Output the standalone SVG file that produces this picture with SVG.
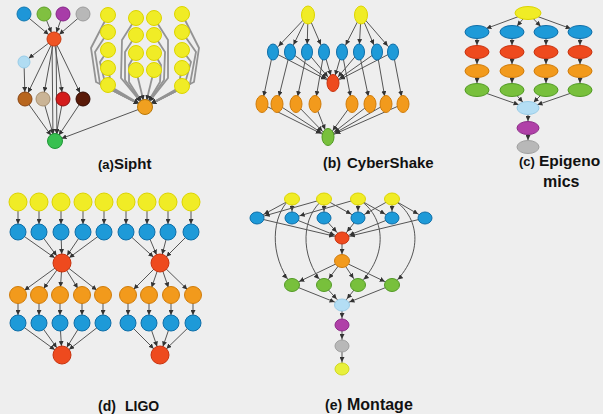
<svg xmlns="http://www.w3.org/2000/svg" width="603" height="414" viewBox="0 0 603 414">
<style>
.t{font-family:"Liberation Sans",Arial,sans-serif;font-weight:bold;fill:#111}
.e{stroke:#555;stroke-width:1;fill:none}
.eg{stroke:#939393;stroke-width:1.8;fill:none}
.e6{marker-end:url(#m6)}.e7{marker-end:url(#m7)}.e8{marker-end:url(#m8)}.e9{marker-end:url(#m9)}.e10{marker-end:url(#m10)}
.Y{fill:#f0ec26;stroke:#dcd400}
.B{fill:#1e9ad8;stroke:#0f6ea8}
.R{fill:#ee4a1e;stroke:#c8320e}
.O{fill:#f29a1c;stroke:#d07c0a}
.G{fill:#78c03c;stroke:#529a24}
.LB{fill:#b4def4;stroke:#98cce8}
.P{fill:#b040a8;stroke:#8c2c88}
.GR{fill:#b8b8b8;stroke:#a0a0a0}
</style>
<defs>
<marker id="m6" viewBox="0 0 10 10" markerWidth="5" markerHeight="5" refX="22" refY="5" orient="auto" markerUnits="userSpaceOnUse"><path d="M0,0L10,5L0,10z" fill="#333"/></marker>
<marker id="m7" viewBox="0 0 10 10" markerWidth="5" markerHeight="5" refX="24" refY="5" orient="auto" markerUnits="userSpaceOnUse"><path d="M0,0L10,5L0,10z" fill="#333"/></marker>
<marker id="m8" viewBox="0 0 10 10" markerWidth="5" markerHeight="5" refX="26" refY="5" orient="auto" markerUnits="userSpaceOnUse"><path d="M0,0L10,5L0,10z" fill="#333"/></marker>
<marker id="m9" viewBox="0 0 10 10" markerWidth="5" markerHeight="5" refX="28" refY="5" orient="auto" markerUnits="userSpaceOnUse"><path d="M0,0L10,5L0,10z" fill="#333"/></marker>
<marker id="m10" viewBox="0 0 10 10" markerWidth="5" markerHeight="5" refX="30" refY="5" orient="auto" markerUnits="userSpaceOnUse"><path d="M0,0L10,5L0,10z" fill="#333"/></marker>
</defs>
<rect width="603" height="414" fill="#eeeeee"/>

<g id="connectors">
<!-- Sipht -->
<path class="e e7" d="M24,14L54,39"/><path class="e e7" d="M44,14L54,39"/><path class="e e7" d="M63,14L54,39"/><path class="e e7" d="M83,14L54,39"/>
<path class="e e6" d="M54,39L24,62"/><path class="e e7" d="M24,62L25,99"/>
<path class="e e7" d="M54,39L25,99"/><path class="e e7" d="M54,39L43,99"/><path class="e e7" d="M54,39L63,99"/><path class="e e7" d="M54,39L83,99"/>
<path class="e e7" d="M52,39L53,141"/><path class="e e7" d="M56,39L57,141"/>
<path class="e e7" d="M25,99L55,141"/><path class="e e7" d="M43,99L55,141"/><path class="e e7" d="M63,99L55,141"/><path class="e e7" d="M83,99L55,141"/>
<path class="e e7" d="M145,107L55,141"/>
<path class="eg e7" d="M108,15L91,48L96,82L145,107"/>
<path class="eg e7" d="M108,32L95,52L100,84L145,107"/>
<path class="eg e7" d="M108,50L100,62L106,87L145,107"/>
<path class="eg e7" d="M108,68L112,89L145,107"/>
<path class="eg e7" d="M108,85L145,107"/>
<path class="eg e7" d="M136,18L122,40L121,78L145,107"/>
<path class="eg e7" d="M136,35L125,52L125,80L145,107"/>
<path class="eg e7" d="M136,53L129,65L129,82L145,107"/>
<path class="eg e7" d="M136,70L145,107"/>
<path class="eg e7" d="M154,18L168,40L168,78L145,107"/>
<path class="eg e7" d="M154,35L165,52L164,80L145,107"/>
<path class="eg e7" d="M154,53L161,65L160,82L145,107"/>
<path class="eg e7" d="M154,70L145,107"/>
<path class="eg e7" d="M182,14L199,48L194,82L145,107"/>
<path class="eg e7" d="M182,32L196,52L190,84L145,107"/>
<path class="eg e7" d="M182,50L191,62L184,87L145,107"/>
<path class="eg e7" d="M182,68L178,89L145,107"/>
<path class="eg e7" d="M182,86L145,107"/>
<!-- CyberShake -->
<path class="e e8" d="M308,15L273,52"/><path class="e e8" d="M308,15L290,52"/><path class="e e8" d="M308,15L307,52"/><path class="e e8" d="M308,15L324,52"/>
<path class="e e8" d="M361,15L342,52"/><path class="e e8" d="M361,15L359,52"/><path class="e e8" d="M361,15L377,52"/><path class="e e8" d="M361,15L393,52"/>
<path class="e e8" d="M273,52L333,83"/><path class="e e8" d="M290,52L333,83"/><path class="e e8" d="M307,52L333,83"/><path class="e e8" d="M324,52L333,83"/>
<path class="e e8" d="M342,52L333,83"/><path class="e e8" d="M359,52L333,83"/><path class="e e8" d="M377,52L333,83"/><path class="e e8" d="M393,52L333,83"/>
<path class="e e8" d="M273,52L262,104"/><path class="e e8" d="M290,52L277,104"/><path class="e e8" d="M307,52L296,104"/><path class="e e8" d="M324,52L315,104"/>
<path class="e e8" d="M342,52L352,104"/><path class="e e8" d="M359,52L370,104"/><path class="e e8" d="M377,52L386,104"/><path class="e e8" d="M393,52L403,104"/>
<path class="e e8" d="M262,104L328,137"/><path class="e e8" d="M277,104L328,137"/><path class="e e8" d="M296,104L328,137"/><path class="e e8" d="M315,104L328,137"/>
<path class="e e8" d="M352,104L328,137"/><path class="e e8" d="M370,104L328,137"/><path class="e e8" d="M386,104L328,137"/><path class="e e8" d="M403,104L328,137"/>
<!-- Epigenomics -->
<path class="e e10" d="M528,13L477,32"/><path class="e e8" d="M528,13L512,32"/><path class="e e8" d="M528,13L546,32"/><path class="e e10" d="M528,13L580,32"/>
<path class="e e7" d="M477,32L477,52"/><path class="e e7" d="M477,52L477,71"/><path class="e e7" d="M477,71L477,90"/>
<path class="e e7" d="M512,32L512,52"/><path class="e e7" d="M512,52L512,71"/><path class="e e7" d="M512,71L512,90"/>
<path class="e e7" d="M546,32L546,52"/><path class="e e7" d="M546,52L546,71"/><path class="e e7" d="M546,71L546,90"/>
<path class="e e7" d="M580,32L580,52"/><path class="e e7" d="M580,52L580,71"/><path class="e e7" d="M580,71L580,90"/>
<path class="e e10" d="M477,90L528,108"/><path class="e e8" d="M512,90L528,108"/><path class="e e8" d="M546,90L528,108"/><path class="e e10" d="M580,90L528,108"/>
<path class="e e7" d="M528,108L528,128"/><path class="e e7" d="M528,128L528,147"/>
<!-- LIGO -->
<path class="e e8" d="M18,202L18,232"/><path class="e e8" d="M39,202L39,232"/><path class="e e8" d="M61,202L61,232"/><path class="e e8" d="M83,202L83,232"/><path class="e e8" d="M104,202L104,232"/>
<path class="e e8" d="M126,202L126,232"/><path class="e e8" d="M147,202L147,232"/><path class="e e8" d="M168,202L168,232"/><path class="e e8" d="M191,202L191,232"/>
<path class="e e9" d="M18,232L62,263"/><path class="e e9" d="M39,232L62,263"/><path class="e e9" d="M61,232L62,263"/><path class="e e9" d="M83,232L62,263"/><path class="e e9" d="M104,232L62,263"/>
<path class="e e9" d="M126,232L160,263"/><path class="e e9" d="M147,232L160,263"/><path class="e e9" d="M168,232L160,263"/><path class="e e9" d="M191,232L160,263"/>
<path class="e e8" d="M62,263L18,295"/><path class="e e8" d="M62,263L39,295"/><path class="e e8" d="M62,263L60,295"/><path class="e e8" d="M62,263L82,295"/><path class="e e8" d="M62,263L103,295"/>
<path class="e e8" d="M160,263L128,295"/><path class="e e8" d="M160,263L149,295"/><path class="e e8" d="M160,263L171,295"/><path class="e e8" d="M160,263L193,295"/>
<path class="e e8" d="M18,295L18,323"/><path class="e e8" d="M39,295L39,323"/><path class="e e8" d="M60,295L60,323"/><path class="e e8" d="M82,295L82,323"/><path class="e e8" d="M103,295L103,323"/>
<path class="e e8" d="M128,295L128,323"/><path class="e e8" d="M149,295L149,323"/><path class="e e8" d="M171,295L171,323"/><path class="e e8" d="M193,295L193,323"/>
<path class="e e9" d="M18,323L62,355"/><path class="e e9" d="M39,323L62,355"/><path class="e e9" d="M60,323L62,355"/><path class="e e9" d="M82,323L62,355"/><path class="e e9" d="M103,323L62,355"/>
<path class="e e9" d="M128,323L160,355"/><path class="e e9" d="M149,323L160,355"/><path class="e e9" d="M171,323L160,355"/><path class="e e9" d="M193,323L160,355"/>
<!-- Montage -->
<path class="e e8" d="M292,199L257,218"/><path class="e e7" d="M292,199L292,218"/><path class="e e8" d="M324,199L257,218"/><path class="e e7" d="M324,199L324,218"/><path class="e e8" d="M324,199L358,218"/>
<path class="e e8" d="M358,199L292,218"/><path class="e e7" d="M358,199L358,218"/><path class="e e8" d="M358,199L392,218"/>
<path class="e e7" d="M392,199L392,218"/><path class="e e8" d="M392,199L425,218"/><path class="e e8" d="M392,199L358,218"/>
<path class="e e8" d="M257,218L342,238"/><path class="e e8" d="M292,218L342,238"/><path class="e e8" d="M324,218L342,238"/><path class="e e8" d="M358,218L342,238"/><path class="e e8" d="M392,218L342,238"/><path class="e e8" d="M425,218L342,238"/>
<path class="e e7" d="M342,238L342,261"/>
<path class="e e8" d="M342,261L292,285"/><path class="e e8" d="M342,261L324,285"/><path class="e e8" d="M342,261L358,285"/><path class="e e8" d="M342,261L392,285"/>
<path class="e e8" d="M290,199C272,215 268,255 292,285"/>
<path class="e e8" d="M324,199C302,215 298,255 324,285"/>
<path class="e e8" d="M358,199C385,215 390,255 358,285"/>
<path class="e e8" d="M392,199C420,215 425,255 392,285"/>
<path class="e e8" d="M292,285L342,305"/><path class="e e8" d="M324,285L342,305"/><path class="e e8" d="M358,285L342,305"/><path class="e e8" d="M392,285L342,305"/>
<path class="e e7" d="M342,305L342,325"/><path class="e e7" d="M342,325L342,346"/><path class="e e7" d="M342,346L342,369"/>
</g>

<!-- Sipht nodes -->
<g id="a-t1"><circle cx="24" cy="14" r="7" fill="#1e96d8" stroke="#1278b0"/></g>
<g id="a-t2"><circle cx="44" cy="14" r="7" fill="#80c040" stroke="#5ea028"/></g>
<g id="a-t3"><circle cx="63" cy="14" r="7" fill="#a83ca8" stroke="#862488"/></g>
<g id="a-t4"><circle cx="83" cy="14" r="7" fill="#b8b8b8" stroke="#9c9c9c"/></g>
<g id="a-r"><circle cx="54" cy="39" r="7" fill="#ee5424" stroke="#c83a10"/></g>
<g id="a-lb"><circle cx="24" cy="62" r="6" fill="#b0dcf2" stroke="#98cce8"/></g>
<g id="a-b1"><circle cx="25" cy="99" r="7" fill="#b8661e" stroke="#8a4410"/></g>
<g id="a-b2"><circle cx="43" cy="99" r="7" fill="#cab496" stroke="#a89070"/></g>
<g id="a-b3"><circle cx="63" cy="99" r="7" fill="#d41c1c" stroke="#901010"/></g>
<g id="a-b4"><circle cx="83" cy="99" r="7" fill="#5a1a08" stroke="#300800"/></g>
<g id="a-g"><circle cx="55" cy="141" r="7.5" fill="#38c050" stroke="#209838"/></g>
<g id="a-o"><circle cx="145" cy="107" r="7.5" fill="#f0a020" stroke="#b87808"/></g>
<g id="a-y1"><circle class="Y" cx="108" cy="15" r="7.5"/></g>
<g id="a-y2"><circle class="Y" cx="108" cy="32" r="7.5"/></g>
<g id="a-y3"><circle class="Y" cx="108" cy="50" r="7.5"/></g>
<g id="a-y4"><circle class="Y" cx="108" cy="68" r="7.5"/></g>
<g id="a-y5"><circle class="Y" cx="108" cy="85" r="7.5"/></g>
<g id="a-y6"><circle class="Y" cx="136" cy="18" r="7.5"/></g>
<g id="a-y7"><circle class="Y" cx="136" cy="35" r="7.5"/></g>
<g id="a-y8"><circle class="Y" cx="136" cy="53" r="7.5"/></g>
<g id="a-y9"><circle class="Y" cx="136" cy="70" r="7.5"/></g>
<g id="a-y10"><circle class="Y" cx="154" cy="18" r="7.5"/></g>
<g id="a-y11"><circle class="Y" cx="154" cy="35" r="7.5"/></g>
<g id="a-y12"><circle class="Y" cx="154" cy="53" r="7.5"/></g>
<g id="a-y13"><circle class="Y" cx="154" cy="70" r="7.5"/></g>
<g id="a-y14"><circle class="Y" cx="182" cy="14" r="7.5"/></g>
<g id="a-y15"><circle class="Y" cx="182" cy="32" r="7.5"/></g>
<g id="a-y16"><circle class="Y" cx="182" cy="50" r="7.5"/></g>
<g id="a-y17"><circle class="Y" cx="182" cy="68" r="7.5"/></g>
<g id="a-y18"><circle class="Y" cx="182" cy="86" r="7.5"/></g>

<!-- CyberShake nodes -->
<g id="b-y1"><ellipse class="Y" cx="308" cy="15" rx="6.5" ry="9"/></g>
<g id="b-y2"><ellipse class="Y" cx="361" cy="15" rx="6.5" ry="9"/></g>
<g id="b-b1"><ellipse class="B" cx="273" cy="52" rx="5.5" ry="8"/></g>
<g id="b-b2"><ellipse class="B" cx="290" cy="52" rx="5.5" ry="8"/></g>
<g id="b-b3"><ellipse class="B" cx="307" cy="52" rx="5.5" ry="8"/></g>
<g id="b-b4"><ellipse class="B" cx="324" cy="52" rx="5.5" ry="8"/></g>
<g id="b-b5"><ellipse class="B" cx="342" cy="52" rx="5.5" ry="8"/></g>
<g id="b-b6"><ellipse class="B" cx="359" cy="52" rx="5.5" ry="8"/></g>
<g id="b-b7"><ellipse class="B" cx="377" cy="52" rx="5.5" ry="8"/></g>
<g id="b-b8"><ellipse class="B" cx="393" cy="52" rx="5.5" ry="8"/></g>
<g id="b-r"><ellipse class="R" cx="333" cy="83" rx="6" ry="8.5"/></g>
<g id="b-o1"><ellipse class="O" cx="262" cy="104" rx="6" ry="8.5"/></g>
<g id="b-o2"><ellipse class="O" cx="277" cy="104" rx="6" ry="8.5"/></g>
<g id="b-o3"><ellipse class="O" cx="296" cy="104" rx="6" ry="8.5"/></g>
<g id="b-o4"><ellipse class="O" cx="315" cy="104" rx="6" ry="8.5"/></g>
<g id="b-o5"><ellipse class="O" cx="352" cy="104" rx="6" ry="8.5"/></g>
<g id="b-o6"><ellipse class="O" cx="370" cy="104" rx="6" ry="8.5"/></g>
<g id="b-o7"><ellipse class="O" cx="386" cy="104" rx="6" ry="8.5"/></g>
<g id="b-o8"><ellipse class="O" cx="403" cy="104" rx="6" ry="8.5"/></g>
<g id="b-g"><ellipse class="G" cx="328" cy="137" rx="6" ry="8.5"/></g>

<!-- Epigenomics nodes -->
<g id="c-y"><ellipse class="Y" cx="528" cy="13" rx="13" ry="6.5"/></g>
<g id="c-b1"><ellipse class="B" cx="477" cy="32" rx="12" ry="6.5"/></g>
<g id="c-b2"><ellipse class="B" cx="512" cy="32" rx="12" ry="6.5"/></g>
<g id="c-b3"><ellipse class="B" cx="546" cy="32" rx="12" ry="6.5"/></g>
<g id="c-b4"><ellipse class="B" cx="580" cy="32" rx="12" ry="6.5"/></g>
<g id="c-r1"><ellipse class="R" cx="477" cy="52" rx="12" ry="6.5"/></g>
<g id="c-r2"><ellipse class="R" cx="512" cy="52" rx="12" ry="6.5"/></g>
<g id="c-r3"><ellipse class="R" cx="546" cy="52" rx="12" ry="6.5"/></g>
<g id="c-r4"><ellipse class="R" cx="580" cy="52" rx="12" ry="6.5"/></g>
<g id="c-o1"><ellipse class="O" cx="477" cy="71" rx="12" ry="6.5"/></g>
<g id="c-o2"><ellipse class="O" cx="512" cy="71" rx="12" ry="6.5"/></g>
<g id="c-o3"><ellipse class="O" cx="546" cy="71" rx="12" ry="6.5"/></g>
<g id="c-o4"><ellipse class="O" cx="580" cy="71" rx="12" ry="6.5"/></g>
<g id="c-g1"><ellipse class="G" cx="477" cy="90" rx="12" ry="6.5"/></g>
<g id="c-g2"><ellipse class="G" cx="512" cy="90" rx="12" ry="6.5"/></g>
<g id="c-g3"><ellipse class="G" cx="546" cy="90" rx="12" ry="6.5"/></g>
<g id="c-g4"><ellipse class="G" cx="580" cy="90" rx="12" ry="6.5"/></g>
<g id="c-lb"><ellipse class="LB" cx="528" cy="108" rx="11" ry="6.5"/></g>
<g id="c-p"><ellipse class="P" cx="528" cy="128" rx="11" ry="6.5"/></g>
<g id="c-gr"><ellipse class="GR" cx="528" cy="147" rx="11" ry="6.5"/></g>

<!-- LIGO nodes -->
<g id="d-y1"><circle class="Y" cx="18" cy="202" r="9"/></g>
<g id="d-y2"><circle class="Y" cx="39" cy="202" r="9"/></g>
<g id="d-y3"><circle class="Y" cx="61" cy="202" r="9"/></g>
<g id="d-y4"><circle class="Y" cx="83" cy="202" r="9"/></g>
<g id="d-y5"><circle class="Y" cx="104" cy="202" r="9"/></g>
<g id="d-y6"><circle class="Y" cx="126" cy="202" r="9"/></g>
<g id="d-y7"><circle class="Y" cx="147" cy="202" r="9"/></g>
<g id="d-y8"><circle class="Y" cx="168" cy="202" r="9"/></g>
<g id="d-y9"><circle class="Y" cx="191" cy="202" r="9"/></g>
<g id="d-b1"><circle class="B" cx="18" cy="232" r="8"/></g>
<g id="d-b2"><circle class="B" cx="39" cy="232" r="8"/></g>
<g id="d-b3"><circle class="B" cx="61" cy="232" r="8"/></g>
<g id="d-b4"><circle class="B" cx="83" cy="232" r="8"/></g>
<g id="d-b5"><circle class="B" cx="104" cy="232" r="8"/></g>
<g id="d-b6"><circle class="B" cx="126" cy="232" r="8"/></g>
<g id="d-b7"><circle class="B" cx="147" cy="232" r="8"/></g>
<g id="d-b8"><circle class="B" cx="168" cy="232" r="8"/></g>
<g id="d-b9"><circle class="B" cx="191" cy="232" r="8"/></g>
<g id="d-r1"><circle class="R" cx="62" cy="263" r="9"/></g>
<g id="d-r2"><circle class="R" cx="160" cy="263" r="9"/></g>
<g id="d-o1"><circle class="O" cx="18" cy="295" r="8.5"/></g>
<g id="d-o2"><circle class="O" cx="39" cy="295" r="8.5"/></g>
<g id="d-o3"><circle class="O" cx="60" cy="295" r="8.5"/></g>
<g id="d-o4"><circle class="O" cx="82" cy="295" r="8.5"/></g>
<g id="d-o5"><circle class="O" cx="103" cy="295" r="8.5"/></g>
<g id="d-o6"><circle class="O" cx="128" cy="295" r="8.5"/></g>
<g id="d-o7"><circle class="O" cx="149" cy="295" r="8.5"/></g>
<g id="d-o8"><circle class="O" cx="171" cy="295" r="8.5"/></g>
<g id="d-o9"><circle class="O" cx="193" cy="295" r="8.5"/></g>
<g id="d-c1"><circle class="B" cx="18" cy="323" r="8"/></g>
<g id="d-c2"><circle class="B" cx="39" cy="323" r="8"/></g>
<g id="d-c3"><circle class="B" cx="60" cy="323" r="8"/></g>
<g id="d-c4"><circle class="B" cx="82" cy="323" r="8"/></g>
<g id="d-c5"><circle class="B" cx="103" cy="323" r="8"/></g>
<g id="d-c6"><circle class="B" cx="128" cy="323" r="8"/></g>
<g id="d-c7"><circle class="B" cx="149" cy="323" r="8"/></g>
<g id="d-c8"><circle class="B" cx="171" cy="323" r="8"/></g>
<g id="d-c9"><circle class="B" cx="193" cy="323" r="8"/></g>
<g id="d-s1"><circle class="R" cx="62" cy="355" r="9"/></g>
<g id="d-s2"><circle class="R" cx="160" cy="355" r="9"/></g>

<!-- Montage nodes -->
<g id="e-y1"><ellipse class="Y" cx="292" cy="199" rx="7.5" ry="6"/></g>
<g id="e-y2"><ellipse class="Y" cx="324" cy="199" rx="7.5" ry="6"/></g>
<g id="e-y3"><ellipse class="Y" cx="358" cy="199" rx="7.5" ry="6"/></g>
<g id="e-y4"><ellipse class="Y" cx="392" cy="199" rx="7.5" ry="6"/></g>
<g id="e-b1"><ellipse class="B" cx="257" cy="218" rx="7" ry="6"/></g>
<g id="e-b2"><ellipse class="B" cx="292" cy="218" rx="7" ry="6"/></g>
<g id="e-b3"><ellipse class="B" cx="324" cy="218" rx="7" ry="6"/></g>
<g id="e-b4"><ellipse class="B" cx="358" cy="218" rx="7" ry="6"/></g>
<g id="e-b5"><ellipse class="B" cx="392" cy="218" rx="7" ry="6"/></g>
<g id="e-b6"><ellipse class="B" cx="425" cy="218" rx="7" ry="6"/></g>
<g id="e-r"><ellipse class="R" cx="342" cy="238" rx="7" ry="6"/></g>
<g id="e-o"><ellipse class="O" cx="342" cy="261" rx="7.5" ry="6.5"/></g>
<g id="e-g1"><ellipse class="G" cx="292" cy="285" rx="7.5" ry="6.5"/></g>
<g id="e-g2"><ellipse class="G" cx="324" cy="285" rx="7.5" ry="6.5"/></g>
<g id="e-g3"><ellipse class="G" cx="358" cy="285" rx="7.5" ry="6.5"/></g>
<g id="e-g4"><ellipse class="G" cx="392" cy="285" rx="7.5" ry="6.5"/></g>
<g id="e-lb"><ellipse class="LB" cx="342" cy="305" rx="7.5" ry="6"/></g>
<g id="e-p"><ellipse class="P" cx="342" cy="325" rx="7" ry="6"/></g>
<g id="e-gr"><ellipse class="GR" cx="342" cy="346" rx="7" ry="6"/></g>
<g id="e-yg"><ellipse cx="342" cy="369" rx="7" ry="6" fill="#e8f03c" stroke="#d0d820"/></g>

<!-- labels -->
<text class="t" x="98" y="169"><tspan font-size="13">(a)</tspan><tspan font-size="15">Sipht</tspan></text>
<text class="t" x="323" y="168" font-size="14">(b)<tspan x="347" font-size="15">CyberShake</tspan></text>
<text class="t" x="519" y="166" font-size="13">(c)<tspan x="539" font-size="15.5">Epigeno</tspan></text>
<text class="t" x="543" y="187" font-size="16">mics</text>
<text class="t" x="98" y="411" font-size="14">(d)<tspan x="125" font-size="14">LIGO</tspan></text>
<text class="t" x="325" y="410" font-size="14">(e)<tspan x="347" font-size="16">Montage</tspan></text>
</svg>
